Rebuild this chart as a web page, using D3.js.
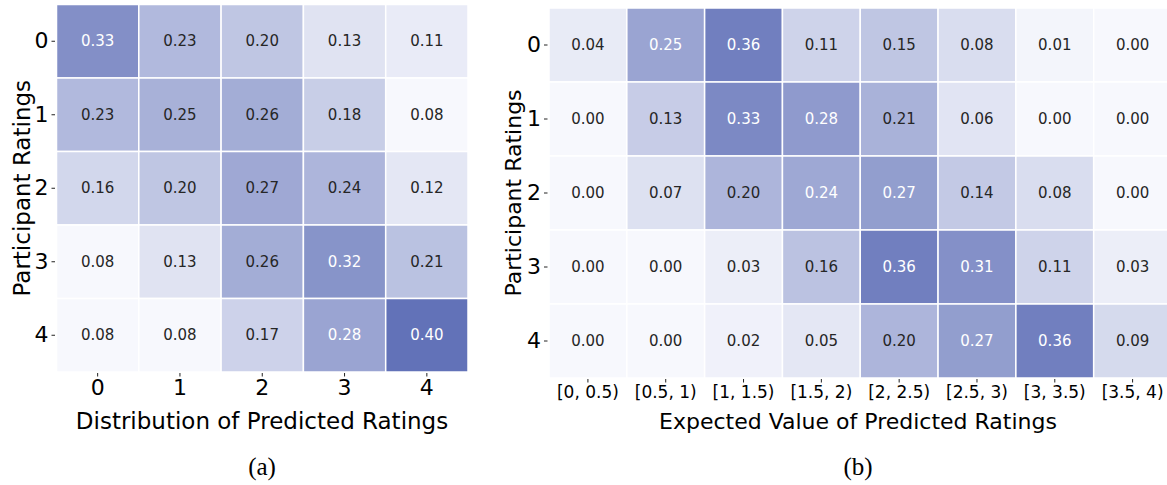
<!DOCTYPE html>
<meta charset="utf-8">
<style>
    body { margin: 0; background: #fff; }
    svg { display: block; }
    svg text { font-family: 'DejaVu Sans', sans-serif; }
    .tick line { stroke: #222; }
    .tick text { fill: #000; }
    svg text.caption { font-family: 'Liberation Serif', 'DejaVu Serif', serif; }
</style>
<body>
<svg id="chart" width="1167" height="485"></svg>
<script src="https://cdn.jsdelivr.net/npm/d3@7"></script>
<script>

    // participant ratings (rows), shared by both panels
    var ratings = ["0", "1", "2", "3", "4"];

    // (a) distribution of predicted ratings
    var distLabels = ["0", "1", "2", "3", "4"];
    var distValues = [
        [0.33, 0.23, 0.20, 0.13, 0.11],
        [0.23, 0.25, 0.26, 0.18, 0.08],
        [0.16, 0.20, 0.27, 0.24, 0.12],
        [0.08, 0.13, 0.26, 0.32, 0.21],
        [0.08, 0.08, 0.17, 0.28, 0.40]
    ];
    var distRange = [0.08, 0.40];

    // (b) expected value of predicted ratings
    var evLabels = ["[0, 0.5)", "[0.5, 1)", "[1, 1.5)", "[1.5, 2)", "[2, 2.5)", "[2.5, 3)", "[3, 3.5)", "[3.5, 4)"];
    var evValues = [
        [0.04, 0.25, 0.36, 0.11, 0.15, 0.08, 0.01, 0.00],
        [0.00, 0.13, 0.33, 0.28, 0.21, 0.06, 0.00, 0.00],
        [0.00, 0.07, 0.20, 0.24, 0.27, 0.14, 0.08, 0.00],
        [0.00, 0.00, 0.03, 0.16, 0.36, 0.31, 0.11, 0.03],
        [0.00, 0.00, 0.02, 0.05, 0.20, 0.27, 0.36, 0.09]
    ];
    var evRange = [0, 0.40];

    var svg = d3.select("#chart");

    function heatmap(opt) {
        var g = svg.append("g");

        var x = d3.scaleBand().domain(opt.cols).range([opt.x0, opt.x1]);
        var y = d3.scaleBand().domain(ratings).range([opt.y0, opt.y1]);

        var flat = [];
        opt.values.forEach(function (row, i) {
            row.forEach(function (v, j) {
                flat.push({ r: ratings[i], c: opt.cols[j], v: v });
            });
        });

        var norm = d3.scaleLinear().domain(opt.range).range([0, 1]).clamp(true);
        var color = d3.scaleLinear().domain([0, 1])
            .range(["#f7f8fd", "#6272b8"]).interpolate(d3.interpolateRgb);

        g.selectAll("rect")
            .data(flat)
            .enter().append("rect")
            .attr("x", function (d) { return x(d.c); })
            .attr("y", function (d) { return y(d.r); })
            .attr("width", x.bandwidth())
            .attr("height", y.bandwidth())
            .attr("fill", function (d) { return color(norm(d.v)); })
            .attr("stroke", "#fff")
            .attr("stroke-width", 1.5);

        g.selectAll("text.val")
            .data(flat)
            .enter().append("text")
            .attr("class", "val")
            .attr("x", function (d) { return x(d.c) + x.bandwidth() / 2; })
            .attr("y", function (d) { return y(d.r) + y.bandwidth() / 2; })
            .attr("text-anchor", "middle")
            .attr("dominant-baseline", "central")
            .style("font-size", opt.valSize + "px")
            .attr("fill", function (d) { return norm(d.v) > 0.597 ? "#fff" : "#262626"; })
            .text(function (d) { return d.v.toFixed(2); });

        // y axis
        var ya = g.append("g")
            .attr("transform", "translate(" + (opt.x0 - 1.5) + ",0)")
            .call(d3.axisLeft(y).tickSize(3.5).tickPadding(3));
        ya.select(".domain").remove();
        ya.selectAll("text").style("font-size", "22px");

        // x axis
        var xa = g.append("g")
            .attr("transform", "translate(0," + (opt.y1 + 1) + ")")
            .call(d3.axisBottom(x).tickSize(3.5).tickPadding(opt.xPad));
        xa.select(".domain").remove();
        xa.selectAll("text").style("font-size", opt.xTickSize + "px");

        // titles
        g.append("text")
            .attr("transform", "translate(" + opt.yTitleX + "," + ((opt.y0 + opt.y1) / 2) + ") rotate(-90)")
            .attr("text-anchor", "middle")
            .attr("dominant-baseline", "central")
            .style("font-size", opt.titleSize + "px")
            .text("Participant Ratings");

        g.append("text")
            .attr("x", opt.titleCx)
            .attr("y", 421)
            .attr("text-anchor", "middle")
            .attr("dominant-baseline", "central")
            .style("font-size", opt.titleSize + "px")
            .text(opt.xTitle);

        g.append("text")
            .attr("class", "caption")
            .attr("x", opt.titleCx)
            .attr("y", 466)
            .attr("text-anchor", "middle")
            .attr("dominant-baseline", "central")
            .style("font-size", "25px")
            .text(opt.caption);
    }

    heatmap({
        cols: distLabels, values: distValues, range: distRange,
        x0: 56.5, x1: 468, y0: 4.5, y1: 372,
        valSize: 15, xTickSize: 22, xPad: 3, titleSize: 23,
        yTitleX: 22, titleCx: 262,
        xTitle: "Distribution of Predicted Ratings", caption: "(a)"
    });

    heatmap({
        cols: evLabels, values: evValues, range: evRange,
        x0: 549, x1: 1171.5, y0: 8, y1: 378,
        valSize: 15, xTickSize: 17, xPad: 3, titleSize: 22,
        yTitleX: 513, titleCx: 858,
        xTitle: "Expected Value of Predicted Ratings", caption: "(b)"
    });

</script>
</body>
